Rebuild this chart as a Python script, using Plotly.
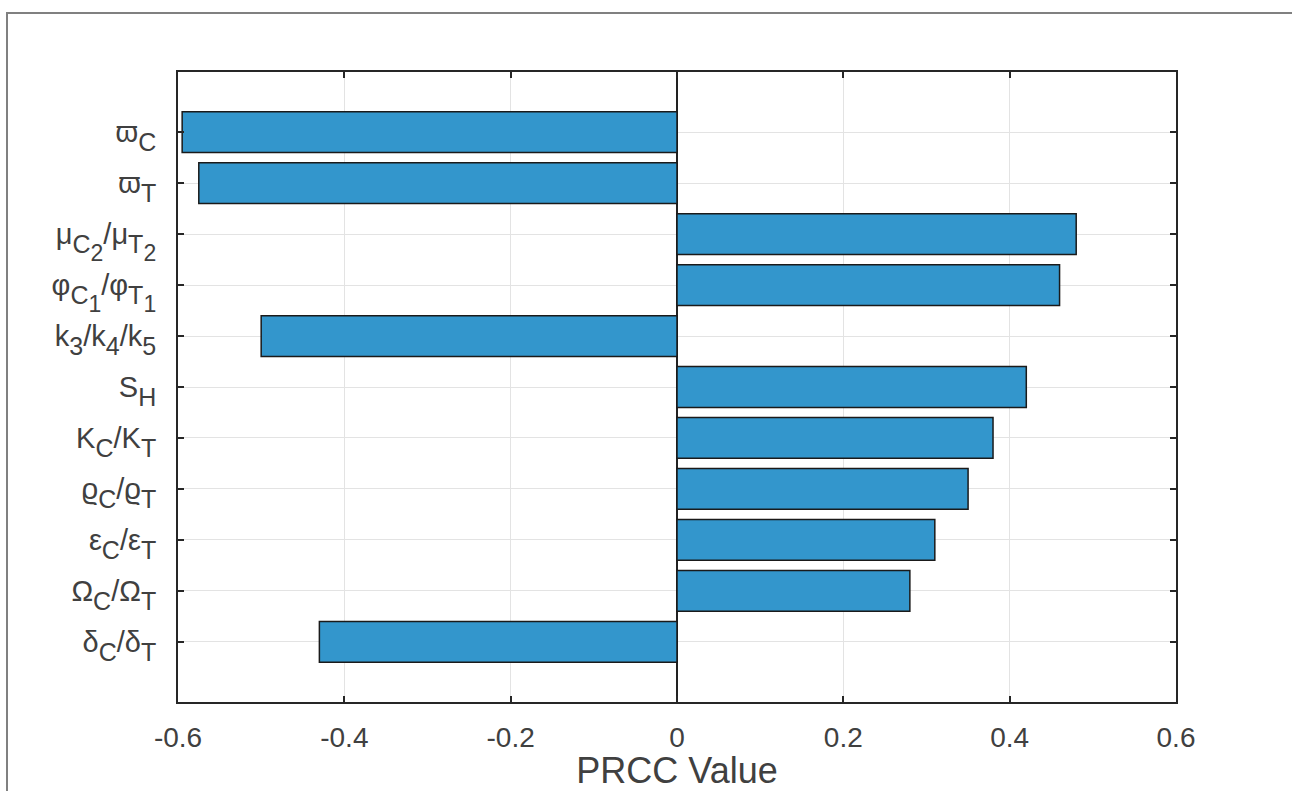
import plotly.graph_objects as go

SUB = '<span style="font-size:25px;baseline-shift:-9px">{}</span>'
SUB2 = ('<span style="font-size:25px;baseline-shift:-9px">{}</span>'
        '<span style="font-size:23px;baseline-shift:-0.75em">{}</span>')

def s(t):
    return SUB.format(t)

def s2(a, b):
    return SUB2.format(a, b)

labels = [
    "ϖ" + s("C"),
    "ϖ" + s("T"),
    "μ" + s2("C", "2") + "/μ" + s2("T", "2"),
    "φ" + s2("C", "1") + "/φ" + s2("T", "1"),
    "k" + s("3") + "/k" + s("4") + "/k" + s("5"),
    "S" + s("H"),
    "K" + s("C") + "/K" + s("T"),
    "ϱ" + s("C") + "/ϱ" + s("T"),
    "ε" + s("C") + "/ε" + s("T"),
    "Ω" + s("C") + "/Ω" + s("T"),
    "δ" + s("C") + "/δ" + s("T"),
]
prcc = [-0.595, -0.575, 0.48, 0.46, -0.50, 0.42, 0.38, 0.35, 0.31, 0.28, -0.43]
x_ticks = [-0.6, -0.4, -0.2, 0, 0.2, 0.4, 0.6]
x_ticklabels = ["-0.6", "-0.4", "-0.2", "0", "0.2", "0.4", "0.6"]

positions = list(range(len(labels)))

fig = go.Figure()
fig.add_trace(go.Bar(
    x=prcc, y=positions, orientation="h", width=0.8,
    marker=dict(color="#3396cc", line=dict(color="#1a1a1a", width=1.5)),
    showlegend=False, hoverinfo="skip",
))

W, H = 1292, 791
L, R, T, B = 178, 116, 72, 89
pw, ph = W - L - R, H - T - B

fig.update_layout(
    width=W, height=H,
    margin=dict(l=L, r=R, t=T, b=B),
    paper_bgcolor="white", plot_bgcolor="white",
    font=dict(family="Liberation Sans, Arial, sans-serif", color="#404040"),
    bargap=0.2,
)
fig.update_xaxes(
    range=[-0.6, 0.6], tickvals=x_ticks, ticktext=x_ticklabels,
    tickfont=dict(size=28, color="#404040"),
    showgrid=True, gridcolor="#e3e3e3", gridwidth=1,
    zeroline=True, zerolinecolor="#222222", zerolinewidth=1.5,
    showline=True, linecolor="#262626", linewidth=2, mirror="ticks",
    ticks="inside", ticklen=6, tickcolor="#262626", tickwidth=1.5,
    ticklabelstandoff=9, automargin=False,
    title=dict(text="PRCC Value", font=dict(size=36, color="#404040"), standoff=18),
)
fig.update_yaxes(
    range=[len(labels) - 1 + 1.18, -1.18],
    tickvals=positions, ticktext=labels,
    tickfont=dict(size=29, color="#404040"),
    showgrid=True, gridcolor="#e3e3e3", gridwidth=1,
    zeroline=False,
    showline=True, linecolor="#262626", linewidth=2, mirror="ticks",
    ticks="inside", ticklen=6, tickcolor="#262626", tickwidth=1.5,
    ticklabelstandoff=14, automargin=False,
)

# outer frame of the figure image
fig.add_shape(
    type="rect", xref="paper", yref="paper",
    x0=(7 - L) / pw, x1=(W + 20 - L) / pw,
    y0=-(H + 20 - (H - B)) / ph, y1=1 + (T - 13) / ph,
    line=dict(color="#808080", width=2), fillcolor="rgba(0,0,0,0)",
    layer="below",
)

fig.write_html(
    "out.html",
    config={"displayModeBar": False},
    post_script="document.body.style.margin='0';document.body.style.overflow='hidden';",
)
